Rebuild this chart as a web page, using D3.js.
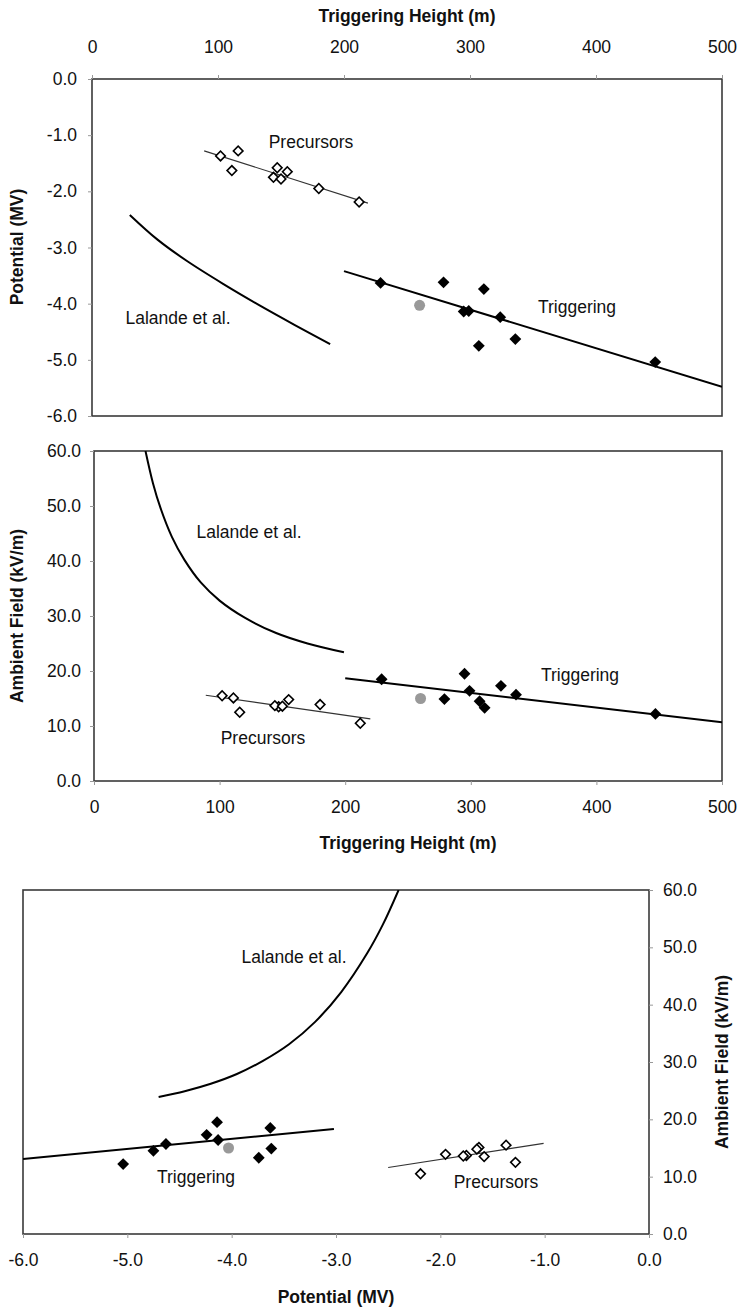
<!DOCTYPE html>
<html>
<head>
<meta charset="utf-8">
<script src="https://cdn.jsdelivr.net/npm/d3@7"></script>
<style>
  html, body { margin: 0; padding: 0; background: #fff; }
  svg { display: block; font-family: "Liberation Sans", Arial, sans-serif; }
  .tick text { font-size: 17.5px; fill: #111; }
  .tick line { stroke: #999; }
  .title { font-size: 17.5px; font-weight: bold; fill: #111; }
  .note { font-size: 17.5px; fill: #111; }
</style>
</head>
<body>
<svg id="chart" width="741" height="1307"></svg>
<script>
// Precursor events: triggering height (m), potential (MV), ambient field (kV/m)
const precHeight    = [102, 116, 111, 147, 144, 150, 155, 180, 212];
const precPotential = [-1.37, -1.28, -1.63, -1.58, -1.75, -1.78, -1.65, -1.95, -2.19];
const precField     = [15.5, 12.5, 15.1, 13.5, 13.7, 13.6, 14.8, 13.9, 10.5];

// Triggering events
const trigHeight    = [229, 279, 311, 295, 299, 324, 307, 336, 447];
const trigPotential = [-3.63, -3.62, -3.74, -4.14, -4.13, -4.24, -4.75, -4.63, -5.04];
const trigField     = [18.5, 14.9, 13.3, 19.5, 16.4, 17.3, 14.5, 15.7, 12.2];

// Highlighted (grey) event
const greyHeight = [260];
const greyPotential = [-4.03];
const greyField = [15.0];

// Fitted trend lines (end points)
const fitPrecHeight = [89, 219],  fitPrecPotential = [-1.28, -2.21];
const fitTrigHeight = [200, 500], fitTrigPotential = [-3.42, -5.48];
const fitPrecHeight2 = [89, 220], fitPrecField = [15.6, 11.3];
const fitTrigHeight2 = [200, 500], fitTrigField = [18.7, 10.7];
const fitPrecPot3 = [-2.50, -1.01], fitPrecField3 = [11.6, 15.8];
const fitTrigPot3 = [-6.0, -3.02], fitTrigField3 = [13.1, 18.3];

// Lalande et al. model curves
const lalHeightA = [30, 52, 76, 105, 133, 161, 189];
const lalPotentialA = [-2.42, -2.86, -3.25, -3.66, -4.03, -4.38, -4.72];
const lalHeightB = [41, 47, 53, 62, 72, 85, 100, 120, 145, 170, 199];
const lalFieldB = [60.0, 54.1, 49.6, 44.4, 40.2, 36.1, 32.8, 29.7, 26.9, 25.0, 23.4];
const lalPotentialC = [-4.70, -4.45, -4.20, -3.95, -3.70, -3.45, -3.20, -2.95, -2.70, -2.55, -2.40];
const lalFieldC = [23.9, 24.9, 26.2, 27.9, 30.2, 33.1, 37.0, 42.2, 49.0, 54.0, 60.0];

// Tick values
const heightTicks = [0, 100, 200, 300, 400, 500];
const potentialTicks = [0, -1, -2, -3, -4, -5, -6];
const fieldTicks = [0, 10, 20, 30, 40, 50, 60];
const potentialTicks3 = [-6, -5, -4, -3, -2, -1, 0];

const fmt1 = d => d.toFixed(1);
const svg = d3.select("#chart");

const zip = (a, b) => a.map((v, i) => [v, b[i]]);

function frame(x, y) {
  svg.append("rect")
    .attr("x", x.range()[0]).attr("y", Math.min(...y.range()))
    .attr("width", x.range()[1] - x.range()[0])
    .attr("height", Math.abs(y.range()[1] - y.range()[0]))
    .attr("fill", "none").attr("stroke", "#3a3a3a").attr("stroke-width", 1.6);
}

function clipFor(id, x, y) {
  svg.append("clipPath").attr("id", id).append("rect")
    .attr("x", x.range()[0]).attr("y", Math.min(...y.range()))
    .attr("width", x.range()[1] - x.range()[0])
    .attr("height", Math.abs(y.range()[1] - y.range()[0]));
  return "url(#" + id + ")";
}

function drawLine(g, pts, x, y, width, color, curve) {
  const line = d3.line().x(d => x(d[0])).y(d => y(d[1]));
  if (curve) line.curve(curve);
  g.append("path").datum(pts).attr("d", line)
    .attr("fill", "none").attr("stroke", color).attr("stroke-width", width);
}

const smooth = d3.curveCatmullRom.alpha(0.5);
const diamond = d3.symbol().type(d3.symbolSquare);

function openDiamonds(g, pts, x, y) {
  g.selectAll(null).data(pts).join("path")
    .attr("d", diamond.size(46)())
    .attr("transform", d => `translate(${x(d[0])},${y(d[1])}) rotate(45)`)
    .attr("fill", "#fff").attr("stroke", "#000").attr("stroke-width", 1.6);
}

function filledDiamonds(g, pts, x, y) {
  g.selectAll(null).data(pts).join("path")
    .attr("d", diamond.size(70)())
    .attr("transform", d => `translate(${x(d[0])},${y(d[1])}) rotate(45)`)
    .attr("fill", "#000");
}

function greyDots(g, pts, x, y) {
  g.selectAll(null).data(pts).join("circle")
    .attr("cx", d => x(d[0])).attr("cy", d => y(d[1])).attr("r", 5.5)
    .attr("fill", "#999");
}

function note(text, cx, cy) {
  svg.append("text").attr("class", "note")
    .attr("x", cx).attr("y", cy).attr("dy", "0.35em")
    .attr("text-anchor", "middle").text(text);
}

function title(text, cx, cy, rotate) {
  svg.append("text").attr("class", "title")
    .attr("transform", `translate(${cx},${cy})` + (rotate ? " rotate(-90)" : ""))
    .attr("dy", "0.35em").attr("text-anchor", "middle").text(text);
}

function cleanAxis(g) { g.select(".domain").remove(); }

// ---------- Panel 1: potential vs triggering height ----------
{
  const x = d3.scaleLinear().domain([0, 500]).range([92, 722]);
  const y = d3.scaleLinear().domain([0, -6]).range([79, 416]);
  frame(x, y);
  svg.append("g").attr("transform", "translate(0,79)")
    .call(d3.axisTop(x).tickValues(heightTicks).tickSize(4).tickPadding(22).tickFormat(d3.format("d")))
    .call(cleanAxis);
  svg.append("g").attr("transform", "translate(92,0)")
    .call(d3.axisLeft(y).tickValues(potentialTicks).tickSize(4).tickPadding(11).tickFormat(fmt1))
    .call(cleanAxis);
  const g = svg.append("g").attr("clip-path", clipFor("c1", x, y));
  drawLine(g, zip(lalHeightA, lalPotentialA), x, y, 2, "#000", smooth);
  drawLine(g, zip(fitPrecHeight, fitPrecPotential), x, y, 1.1, "#333");
  drawLine(g, zip(fitTrigHeight, fitTrigPotential), x, y, 2, "#000");
  openDiamonds(g, zip(precHeight, precPotential), x, y);
  filledDiamonds(g, zip(trigHeight, trigPotential), x, y);
  greyDots(g, zip(greyHeight, greyPotential), x, y);
  note("Precursors", 311, 142);
  note("Lalande et al.", 178, 318);
  note("Triggering", 577, 307);
  title("Triggering Height (m)", 407, 16);
  title("Potential (MV)", 17, 247, true);
}

// ---------- Panel 2: ambient field vs triggering height ----------
{
  const x = d3.scaleLinear().domain([0, 500]).range([94, 722]);
  const y = d3.scaleLinear().domain([0, 60]).range([781, 451]);
  frame(x, y);
  svg.append("g").attr("transform", "translate(0,781)")
    .call(d3.axisBottom(x).tickValues(heightTicks).tickSize(4).tickPadding(16).tickFormat(d3.format("d")))
    .call(cleanAxis);
  svg.append("g").attr("transform", "translate(94,0)")
    .call(d3.axisLeft(y).tickValues(fieldTicks).tickSize(4).tickPadding(9).tickFormat(fmt1))
    .call(cleanAxis);
  const g = svg.append("g").attr("clip-path", clipFor("c2", x, y));
  drawLine(g, zip(lalHeightB, lalFieldB), x, y, 2, "#000", smooth);
  drawLine(g, zip(fitPrecHeight2, fitPrecField), x, y, 1.1, "#333");
  drawLine(g, zip(fitTrigHeight2, fitTrigField), x, y, 2, "#000");
  openDiamonds(g, zip(precHeight, precField), x, y);
  filledDiamonds(g, zip(trigHeight, trigField), x, y);
  greyDots(g, zip(greyHeight, greyField), x, y);
  note("Lalande et al.", 249, 532);
  note("Triggering", 580, 675);
  note("Precursors", 263, 738);
  title("Triggering Height (m)", 408, 843);
  title("Ambient Field (kV/m)", 17, 616, true);
}

// ---------- Panel 3: ambient field vs potential ----------
{
  const x = d3.scaleLinear().domain([-6, 0]).range([23, 649]);
  const y = d3.scaleLinear().domain([0, 60]).range([1234, 890]);
  frame(x, y);
  svg.append("g").attr("transform", "translate(0,1234)")
    .call(d3.axisBottom(x).tickValues(potentialTicks3).tickSize(4).tickPadding(16).tickFormat(fmt1))
    .call(cleanAxis);
  svg.append("g").attr("transform", "translate(649,0)")
    .call(d3.axisRight(y).tickValues(fieldTicks).tickSize(4).tickPadding(10).tickFormat(fmt1))
    .call(cleanAxis);
  const g = svg.append("g").attr("clip-path", clipFor("c3", x, y));
  drawLine(g, zip(lalPotentialC, lalFieldC), x, y, 2, "#000", smooth);
  drawLine(g, zip(fitPrecPot3, fitPrecField3), x, y, 1.1, "#333");
  drawLine(g, zip(fitTrigPot3, fitTrigField3), x, y, 2, "#000");
  openDiamonds(g, zip(precPotential, precField), x, y);
  filledDiamonds(g, zip(trigPotential, trigField), x, y);
  greyDots(g, zip(greyPotential, greyField), x, y);
  note("Lalande et al.", 294, 957);
  note("Triggering", 196, 1177);
  note("Precursors", 496, 1182);
  title("Potential (MV)", 336, 1297);
  title("Ambient Field (kV/m)", 722, 1062, true);
}
</script>
</body>
</html>
